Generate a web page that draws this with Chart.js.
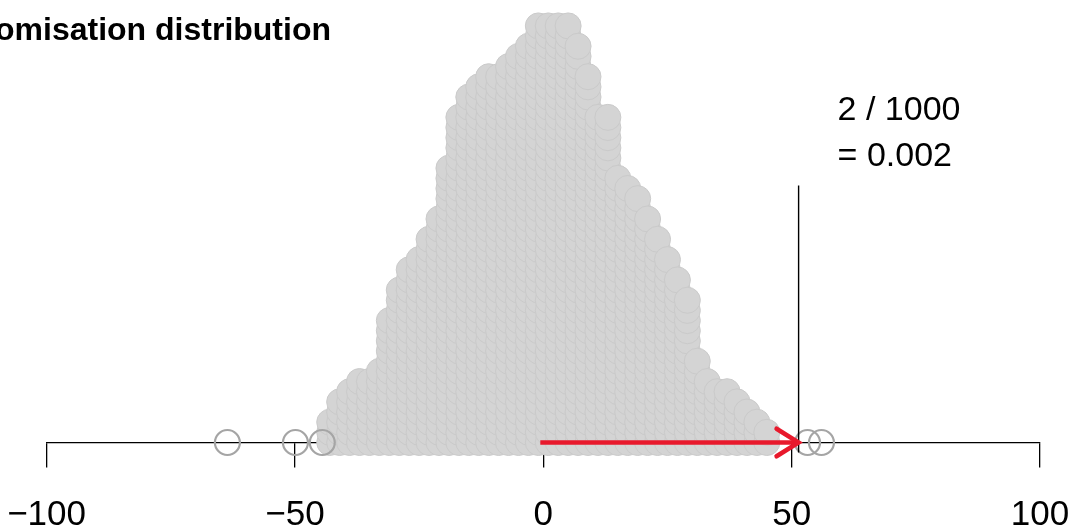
<!DOCTYPE html>
<html>
<head>
<meta charset="utf-8">
<script src="https://cdn.jsdelivr.net/npm/chart.js@4/dist/chart.umd.min.js"></script>
<style>
  html, body { margin: 0; padding: 0; background: #ffffff; }
  #c { display: block; }
</style>
</head>
<body>
<canvas id="c" width="1068" height="530" style="width:1068px;height:530px"></canvas>
<script>
// ---- data ----
const titleText = 'Randomisation distribution';
// dot-plot bins (centre of each 2-unit bin) and number of stacked dots
const binMids = [-43, -41, -39, -37, -35, -33, -31, -29, -27, -25, -23, -21, -19, -17, -15,
                 -13, -11, -9, -7, -5, -3, -1, 1, 3, 5, 7, 9, 11, 13, 15,
                 17, 19, 21, 23, 25, 27, 29, 31, 33, 35, 37, 39, 41, 43, 45];
const binCounts = [3, 5, 6, 7, 7, 8, 13, 16, 18, 19, 21, 23, 28, 33, 35,
                   36, 37, 37, 38, 39, 40, 42, 42, 42, 42, 40, 37, 33, 33, 27,
                   26, 25, 23, 21, 19, 17, 15, 9, 7, 6, 6, 5, 4, 3, 2];
// isolated randomisation differences in the tails
const tailValues = [-63.6, -49.9, -44.5, 53.2, 56.0];
const observedDiff = 51.4;
const tailCountText = ['2 / 1000', '= 0.002'];
const tickValues = [-100, -50, 0, 50, 100];
const tickLabels = ['\u2212100', '\u221250', '0', '50', '100'];

// ---- build the point tables ----
const massPoints = [];
binMids.forEach((x, i) => {
  for (let j = 0; j < binCounts[i]; j++) massPoints.push({ x: x, y: j });
});
const tailPoints = tailValues.map(v => ({ x: v, y: 0 }));

const FONT = '"Liberation Sans", Arial, Helvetica, sans-serif';

const annotate = {
  id: 'annotate',
  afterDatasetsDraw(chart) {
    const ctx = chart.ctx;
    const xs = chart.scales.x, ys = chart.scales.y;
    const x0 = xs.getPixelForValue(0);
    const x1 = xs.getPixelForValue(observedDiff);
    const yb = ys.getPixelForValue(0);
    ctx.save();
    // vertical line at observed difference
    ctx.strokeStyle = '#000';
    ctx.lineWidth = 1.4;
    ctx.beginPath();
    ctx.moveTo(x1, yb - 257);
    ctx.lineTo(x1, yb + 10);
    ctx.stroke();
    // red arrow
    ctx.strokeStyle = '#e8192c';
    ctx.lineWidth = 4.5;
    ctx.lineCap = 'butt';
    ctx.beginPath();
    ctx.moveTo(x0 - 3, yb);
    ctx.lineTo(x1, yb);
    ctx.stroke();
    const L = 26, a = 32 * Math.PI / 180;
    ctx.lineCap = 'round';
    ctx.beginPath();
    ctx.moveTo(x1 - L * Math.cos(a), yb - L * Math.sin(a));
    ctx.lineTo(x1, yb);
    ctx.lineTo(x1 - L * Math.cos(a), yb + L * Math.sin(a));
    ctx.stroke();
    // tail proportion text
    ctx.fillStyle = '#000';
    ctx.font = '34px ' + FONT;
    ctx.textAlign = 'left';
    ctx.textBaseline = 'alphabetic';
    ctx.fillText(tailCountText[0], x1 + 39, 120);
    ctx.fillText(tailCountText[1], x1 + 39, 166);
    // title (left part falls outside the picture, as in the reference)
    ctx.font = 'bold 32px ' + FONT;
    ctx.textAlign = 'right';
    ctx.fillText(titleText, 331, 40);
    ctx.restore();
  }
};

new Chart(document.getElementById('c'), {
  type: 'scatter',
  data: {
    datasets: [
      {
        label: 'tail',
        data: tailPoints,
        pointStyle: 'circle',
        pointRadius: 12.5,
        pointHoverRadius: 12.5,
        backgroundColor: 'rgba(255,255,255,0)',
        borderColor: '#a5a5a5',
        borderWidth: 2.2,
        clip: false
      },
      {
        label: 'randomisation',
        data: massPoints,
        pointStyle: 'circle',
        pointRadius: 13,
        pointHoverRadius: 13,
        backgroundColor: '#d4d4d4',
        borderColor: '#cacaca',
        borderWidth: 1,
        clip: false
      }
    ]
  },
  options: {
    responsive: false,
    animation: false,
    devicePixelRatio: 1,
    events: [],
    layout: { autoPadding: false, padding: { left: 46.6, right: 28, top: 0, bottom: 0 } },
    plugins: {
      legend: { display: false },
      tooltip: { enabled: false },
      title: { display: false }
    },
    scales: {
      x: {
        type: 'linear',
        min: -100,
        max: 100,
        afterBuildTicks: s => { s.ticks = tickValues.map(v => ({ value: v })); },
        afterFit: s => { s.height = 87.5; s.paddingLeft = 0; s.paddingRight = 0; },
        border: { display: true, color: '#000', width: 1.3 },
        grid: { display: true, drawOnChartArea: false, drawTicks: true, tickLength: 25, color: '#000', lineWidth: 1.3 },
        ticks: {
          color: '#000',
          font: { family: FONT, size: 35 },
          padding: 27,
          maxRotation: 0,
          autoSkip: false,
          callback: v => tickLabels[tickValues.indexOf(v)]
        }
      },
      y: { type: 'linear', display: false, min: 0, max: 43.55 }
    }
  },
  plugins: [annotate]
});
</script>
</body>
</html>
